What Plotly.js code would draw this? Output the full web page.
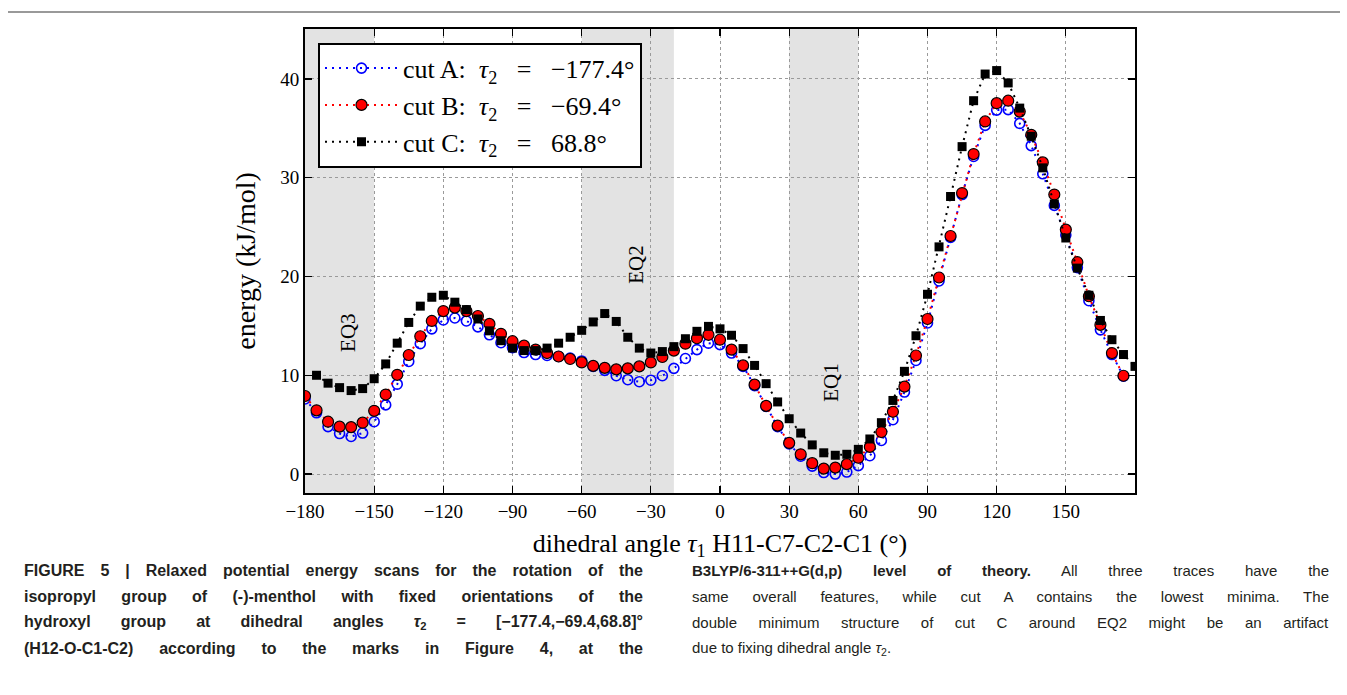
<!DOCTYPE html>
<html>
<head>
<meta charset="utf-8">
<script src="https://cdn.plot.ly/plotly-3.0.1.min.js"></script>
<style>html,body{margin:0;padding:0;background:#fff;}#chart{width:1347px;height:695px;}</style>
</head>
<body>
<div id="chart"></div>
<script>
// tau1 angles (degrees)
const anglesAB = [-180,-175,-170,-165,-160,-155,-150,-145,-140,-135,-130,-125,-120,-115,-110,-105,-100,-95,-90,-85,-80,-75,-70,-65,-60,-55,-50,-45,-40,-35,-30,-25,-20,-15,-10,-5,0,5,10,15,20,25,30,35,40,45,50,55,60,65,70,75,80,85,90,95,100,105,110,115,120,125,130,135,140,145,150,155,160,165,170,175];
const anglesC = [-175,-170,-165,-160,-155,-150,-145,-140,-135,-130,-125,-120,-115,-110,-105,-100,-95,-90,-85,-80,-75,-70,-65,-60,-55,-50,-45,-40,-35,-30,-25,-20,-15,-10,-5,0,5,10,15,20,25,30,35,40,45,50,55,60,65,70,75,80,85,90,95,100,105,110,115,120,125,130,135,140,145,150,155,160,165,170,175,180];
// energies (kJ/mol)
const cutA = [7.6,6.2,4.8,4.1,3.8,4.15,5.3,7.0,9.1,11.4,13.2,14.7,15.6,15.8,15.5,14.9,14.1,13.3,12.8,12.3,12.1,12.0,11.9,11.75,11.45,10.9,10.5,9.95,9.55,9.35,9.5,9.95,10.7,11.7,12.6,13.25,13.1,12.25,10.9,8.95,6.85,4.8,3.05,1.8,0.8,0.15,0.0,0.2,0.85,1.85,3.4,5.5,8.3,11.5,15.3,19.55,23.95,28.3,32.15,35.3,36.85,36.9,35.5,33.25,30.4,27.2,24.2,20.9,17.55,14.6,12.1,9.9];
const cutB = [7.9,6.45,5.3,4.8,4.75,5.2,6.4,8.05,10.05,12.05,13.95,15.5,16.5,16.85,16.5,16.0,15.2,14.2,13.45,13.0,12.6,12.25,11.9,11.65,11.3,10.95,10.75,10.6,10.7,10.9,11.3,11.85,12.5,13.2,13.75,14.1,13.6,12.6,11.0,9.05,6.9,4.9,3.15,2.0,1.1,0.55,0.65,1.0,1.65,2.75,4.25,6.3,8.85,12.0,15.7,19.9,24.1,28.45,32.4,35.7,37.55,37.8,36.7,34.35,31.55,28.3,24.75,21.45,18.0,15.1,12.25,9.95];
const cutC = [10.0,9.2,8.75,8.45,8.65,9.65,11.15,13.25,15.35,17.0,17.9,18.1,17.4,16.65,15.7,14.5,13.5,12.75,12.5,12.5,12.75,13.25,13.85,14.55,15.4,16.25,15.45,13.85,12.75,12.25,12.4,12.9,13.7,14.45,14.95,14.7,14.05,12.7,11.0,9.15,7.3,5.6,4.15,2.95,2.15,1.9,2.0,2.5,3.55,5.2,7.45,10.4,14.0,18.2,23.0,28.1,33.15,37.8,40.5,40.85,39.6,37.05,34.2,31.0,27.35,23.9,20.85,18.1,15.55,13.6,12.1,10.9];
const NB = '\u00A0';
const seriesNames = [
  'cut A:' + NB + ' <i>τ</i><sub>2</sub>' + NB + NB + ' =' + NB + NB + ' −177.4°',
  'cut B:' + NB + ' <i>τ</i><sub>2</sub>' + NB + NB + ' =' + NB + NB + ' −69.4°',
  'cut C:' + NB + ' <i>τ</i><sub>2</sub>' + NB + NB + ' =' + NB + NB + ' 68.8°'
];
// equilibrium regions
const regions = [[-180,-150],[-60,-20],[30,60]];
const regionLabels = ['EQ3','EQ2','EQ1'];
const regionLabelX = [-161.3,-36.4,48.4];
const regionLabelY = [14.3,21.2,9.3];
const xTicks = [-180,-150,-120,-90,-60,-30,0,30,60,90,120,150];
const yTicks = [0,10,20,30,40];

const serif = 'Liberation Serif, Times New Roman, serif';
const capFont = 'Liberation Sans, Arial, sans-serif';
const L = 305, R = 1135, T = 29, B = 493, W = 1347, H = 695;
const px = v => (v - L) / (R - L);
const py = v => (B - v) / (B - T);

const traces = [
  {x: anglesAB, y: cutA, name: seriesNames[0], legendgroup: 'a', mode: 'lines+markers',
   line: {color: '#0000ff', width: 2, dash: '2px,5px'},
   marker: {symbol: 'circle-open', size: 10, color: '#0000ff', line: {width: 1.6, color: '#0000ff'}}},
  {x: anglesAB, y: cutB, name: seriesNames[1], legendgroup: 'b', mode: 'lines+markers',
   line: {color: '#ff0000', width: 2, dash: '2px,5px'},
   marker: {symbol: 'circle', size: 11, color: '#ff0000', line: {width: 1.2, color: '#000000'}}},
  {x: anglesC, y: cutC, name: seriesNames[2], legendgroup: 'c', mode: 'lines+markers',
   line: {color: '#000000', width: 2, dash: '2px,5px'},
   marker: {symbol: 'square', size: 9, color: '#000000', line: {width: 0}}}
];

const shapes = regions.map(r => ({type: 'rect', xref: 'x', yref: 'paper', x0: r[0], x1: r[1], y0: 0, y1: 1,
  fillcolor: '#e3e3e3', line: {width: 0}, layer: 'below'}));
shapes.push({type: 'line', xref: 'paper', yref: 'paper', x0: px(8), x1: px(1340), y0: py(12), y1: py(12),
  line: {color: '#777777', width: 1.5}});

const annotations = regionLabels.map((t, i) => ({x: regionLabelX[i], y: regionLabelY[i], xref: 'x', yref: 'y',
  text: t, showarrow: false, textangle: -90, font: {family: serif, size: 21, color: '#000'}}));

// caption text
const capLeft = [
  '<b>FIGURE 5 | Relaxed potential energy scans for the rotation of the</b>',
  '<b>isopropyl group of (-)-menthol with fixed orientations of the</b>',
  '<b>hydroxyl group at dihedral angles <i>τ</i><sub>2</sub> = [−177.4,−69.4,68.8]°</b>',
  '<b>(H12-O-C1-C2) according to the marks in Figure 4, at the</b>'
];
const capRight = [
  '<b>B3LYP/6-311++G(d,p) level of theory.</b> All three traces have the',
  'same overall features, while cut A contains the lowest minima. The',
  'double minimum structure of cut C around EQ2 might be an artifact',
  'due to fixing dihedral angle <i>τ</i><sub>2</sub>.'
];
const capY = [570, 596, 622, 648];
const justifyTargets = [];  // [annotation index, target width, gaps]
capLeft.forEach((t, i) => {
  justifyTargets.push([annotations.length, 619, t.split(' ').length - 1]);
  annotations.push({xref: 'paper', yref: 'paper', x: px(22), y: py(capY[i]),
    xanchor: 'left', yanchor: 'middle', text: t, showarrow: false, align: 'left',
    font: {family: capFont, size: 16, color: '#231f20'}});
});
capRight.forEach((t, i) => {
  if (i < 3) justifyTargets.push([annotations.length, 637, t.split(' ').length - 1]);
  annotations.push({xref: 'paper', yref: 'paper', x: px(690), y: py(capY[i]),
    xanchor: 'left', yanchor: 'middle', text: t, showarrow: false, align: 'left',
    font: {family: capFont, size: 15, color: '#231f20'}});
});

const axisCommon = {
  showline: true, linecolor: '#000', linewidth: 2, mirror: 'allticks',
  ticks: 'inside', ticklen: 7, tickwidth: 1.3, tickcolor: '#000',
  showgrid: true, gridcolor: '#9a9a9a', griddash: 'dot', gridwidth: 1,
  zeroline: false, tickfont: {family: serif, size: 19, color: '#000'}
};

const layout = {
  width: W, height: H,
  margin: {l: L, r: W - R, t: T, b: H - B, pad: 0},
  paper_bgcolor: '#fff', plot_bgcolor: 'rgba(0,0,0,0)',
  showlegend: true,
  legend: {x: px(318), y: py(42.7), xanchor: 'left', yanchor: 'top',
    bgcolor: '#fff', bordercolor: '#000', borderwidth: 2,
    font: {family: serif, size: 26, color: '#000'}, itemwidth: 73, tracegroupgap: 0},
  xaxis: Object.assign({}, axisCommon, {range: [-180, 180], tickvals: xTicks, ticktext: xTicks.map(v => v < 0 ? '−' + Math.abs(v) : String(v)),
    title: {text: 'dihedral angle <i>τ</i><sub>1</sub> H11-C7-C2-C1 (°)', font: {family: serif, size: 26, color: '#000'}, standoff: 13}}),
  yaxis: Object.assign({}, axisCommon, {range: [-1.92, 45.06], tickvals: yTicks,
    title: {text: 'energy (kJ/mol)', font: {family: serif, size: 28, color: '#000'}, standoff: 16}}),
  shapes: shapes,
  annotations: annotations
};

Plotly.newPlot('chart', traces, layout, {displayModeBar: false, staticPlot: true}).then(gd => {
  // justify caption lines like the printed figure (word spacing)
  const texts = gd.querySelectorAll('.annotation .annotation-text');
  justifyTargets.forEach(([idx, target, gaps]) => {
    const el = texts[idx];
    if (!el || gaps <= 0) return;
    const w = el.getBBox().width;
    const ws = Math.max(0, (target - w) / gaps);
    el.style.wordSpacing = ws.toFixed(2) + 'px';
  });
});
</script>
</body>
</html>
